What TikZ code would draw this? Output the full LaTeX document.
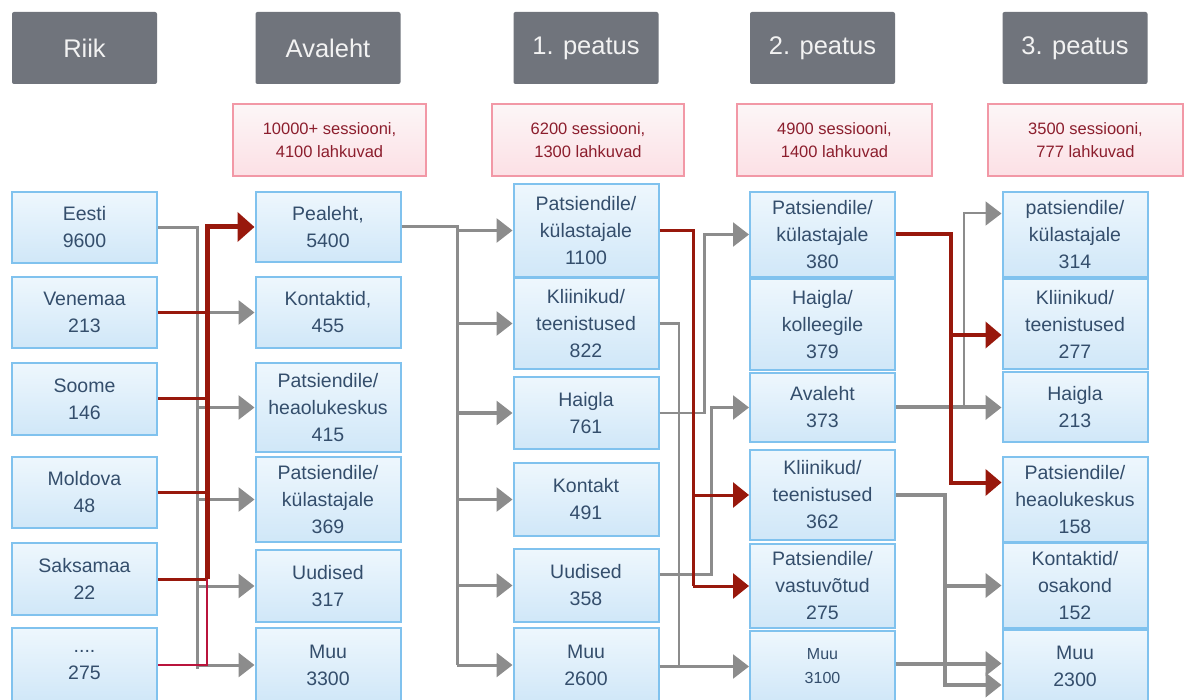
\documentclass[tikz,border=0pt]{standalone}
\usepackage{fontspec}
\setmainfont{Liberation Sans}
\usetikzlibrary{arrows.meta}
\definecolor{boxtext}{RGB}{52,78,108}
\definecolor{boxborder}{RGB}{128,194,238}
\definecolor{boxtop}{RGB}{238,247,253}
\definecolor{boxbot}{RGB}{208,231,248}
\definecolor{hdfill}{RGB}{112,116,124}
\definecolor{hdtext}{RGB}{242,242,242}
\definecolor{pkborder}{RGB}{242,152,166}
\definecolor{pktop}{RGB}{252,246,247}
\definecolor{pkbot}{RGB}{252,224,229}
\definecolor{pktext}{RGB}{140,30,45}
\definecolor{lgray}{RGB}{140,140,140}
\definecolor{dred}{RGB}{152,24,12}
\definecolor{crim}{RGB}{185,20,60}
\begin{document}
\begin{tikzpicture}[x=1pt,y=-1pt,
  bx/.style={draw=boxborder, line width=2pt, top color=boxtop, bottom color=boxbot,
    minimum width=145pt, inner sep=0pt, align=center, text=boxtext,
    font=\fontsize{19.5}{27}\selectfont},
  hd/.style={fill=hdfill, rounded corners=2pt, minimum width=145pt, minimum height=72pt,
    inner sep=0pt, text=hdtext, font=\fontsize{25.5}{30}\selectfont},
  pk/.style={draw=pkborder, line width=2pt, top color=pktop, bottom color=pkbot,
    minimum height=72pt, inner sep=0pt, align=center, text=pktext,
    font=\fontsize{16.5}{23}\selectfont},
  gl/.style={draw=lgray, line width=3pt},
  ga/.style={gl, -{Triangle[length=16pt,width=24pt]}},
  gm/.style={draw=lgray, line width=2.5pt},
  gma/.style={gm, -{Triangle[length=16pt,width=24pt]}},
  gt/.style={draw=lgray, line width=2pt, -{Triangle[length=16pt,width=24pt]}},
  gT/.style={draw=lgray, line width=4pt},
  gTa/.style={gT, -{Triangle[length=16pt,width=24pt]}},
  rl/.style={draw=dred, line width=3pt},
  ra/.style={rl, -{Triangle[length=16pt,width=25pt]}},
  cl/.style={draw=crim, line width=2.5pt},
  rT/.style={draw=dred, line width=5pt},
  rTb/.style={draw=dred, line width=4pt},
  rTba/.style={rTb, -{Triangle[length=16pt,width=26pt]}}
]
\useasboundingbox (0,0) rectangle (1186,700);
\fill[white] (0,0) rectangle (1186,700);

% headers
\node[hd] (h0) at (84.5,48) {Riik};
\node[hd] (h1) at (328,48) {Avaleht};
\node[hd] (h2) at (586,48) {1. peatus};
\node[hd] (h3) at (822.5,48) {2. peatus};
\node[hd] (h4) at (1075,48) {3. peatus};

% session boxes
\node[pk, minimum width=193pt] (p1) at (329.5,140) {10000+ sessiooni,\\4100 lahkuvad};
\node[pk, minimum width=192pt] (p2) at (588,140) {6200 sessiooni,\\1300 lahkuvad};
\node[pk, minimum width=195pt] (p3) at (834.5,140) {4900 sessiooni,\\1400 lahkuvad};
\node[pk, minimum width=195pt] (p4) at (1085.5,140) {3500 sessiooni,\\777 lahkuvad};

% column 0
\node[bx, minimum height=71pt] (c0a) at (84.5,227.5) {Eesti\\9600};
\node[bx, minimum height=71pt] (c0b) at (84.5,312.5) {Venemaa\\213};
\node[bx, minimum height=72pt] (c0c) at (84.5,399) {Soome\\146};
\node[bx, minimum height=71pt] (c0d) at (84.5,492.5) {Moldova\\48};
\node[bx, minimum height=72pt] (c0e) at (84.5,579) {Saksamaa\\22};
\node[bx, minimum height=74pt] (c0f) at (84.5,665) {....\\275};

% column 1
\node[bx, minimum height=70pt] (c1a) at (328,227) {Pealeht,\\5400};
\node[bx, minimum height=71pt] (c1b) at (328,312.5) {Kontaktid,\\455};
\node[bx, minimum height=89pt] (c1c) at (328,407.5) {Patsiendile/\\heaolukeskus\\415};
\node[bx, minimum height=85pt] (c1d) at (328,499.5) {Patsiendile/\\külastajale\\369};
\node[bx, minimum height=72pt] (c1e) at (328,586) {Uudised\\317};
\node[bx, minimum height=74pt] (c1f) at (328,665) {Muu\\3300};

% column 2
\node[bx, minimum height=93pt] (c2a) at (586,230.5) {Patsiendile/\\külastajale\\1100};
\node[bx, minimum height=91pt] (c2b) at (586,323.5) {Kliinikud/\\teenistused\\822};
\node[bx, minimum height=72pt] (c2c) at (586,413) {Haigla\\761};
\node[bx, minimum height=73pt] (c2d) at (586,499.5) {Kontakt\\491};
\node[bx, minimum height=73pt] (c2e) at (586,585.5) {Uudised\\358};
\node[bx, minimum height=74pt] (c2f) at (586,665) {Muu\\2600};

% column 3
\node[bx, minimum height=85pt] (c3a) at (822.5,234.5) {Patsiendile/\\külastajale\\380};
\node[bx, minimum height=91pt] (c3b) at (822.5,324.5) {Haigla/\\kolleegile\\379};
\node[bx, minimum height=69pt] (c3c) at (822.5,407.5) {Avaleht\\373};
\node[bx, minimum height=90pt] (c3d) at (822.5,495) {Kliinikud/\\teenistused\\362};
\node[bx, minimum height=84pt] (c3e) at (822.5,586) {Patsiendile/\\vastuvõtud\\275};
\node[bx, minimum height=71pt, font=\fontsize{16}{24}\selectfont] (c3f) at (822.5,666.5) {Muu\\3100};

% column 4
\node[bx, minimum height=85pt] (c4a) at (1075,234.5) {patsiendile/\\külastajale\\314};
\node[bx, minimum height=90pt] (c4b) at (1075,324) {Kliinikud/\\teenistused\\277};
\node[bx, minimum height=70pt] (c4c) at (1075,407) {Haigla\\213};
\node[bx, minimum height=85pt] (c4d) at (1075,499.5) {Patsiendile/\\heaolukeskus\\158};
\node[bx, minimum height=85pt] (c4e) at (1075,585.5) {Kontaktid/\\osakond\\152};
\node[bx, minimum height=72pt] (c4f) at (1075,666) {Muu\\2300};

% ---------- column 0 -> column 1
\coordinate (t0) at (197,227.5);
\coordinate (t0r) at (207,0);
\draw[gl] (c0a.east) -- (t0) -- ([yshift=-4pt]t0 |- c1f);
\foreach \n in {c1b,c1c,c1d,c1e,c1f} \draw[ga] (t0 |- \n) -- (\n);
\foreach \n in {c0b,c0c,c0d,c0e} \draw[rl] (\n.east) -- (\n.east -| t0r);
\draw[cl] (c0f.east) -| (t0r |- c0e);
\draw[rT, -{Triangle[length=17pt,width=29pt]}] (t0r |- c0e) -- (t0r |- c1a) -- (c1a);

% ---------- column 1 -> column 2
\coordinate (t1) at (457,0);
\draw[gl] (c1a.east) -| (t1 |- c2f);
\foreach \n in {c2a,c2b,c2c,c2d,c2e,c2f} \draw[ga] (t1 |- \n) -- (\n);

% ---------- column 2 -> column 3
\coordinate (t2g) at (679,0);
\coordinate (t2r) at (693,0);
\draw[gma] (c2b.east) -| (t2g |- c3f) -- (c3f);
\draw[gm] (c2f.east |- c3f) -- (t2g |- c3f);
\draw[gma] (c2c.east) -- ++(45,0) |- (c3a);
\draw[gma] ([yshift=11pt]c2e.east) -- ++(52,0) |- (c3c);
\draw[rl] (c2a.east) -| (t2r |- c3e);
\draw[ra] (t2r |- c3d) -- (c3d);
\draw[ra] (t2r |- c3e) -- (c3e);

% ---------- column 3 -> column 4
\coordinate (c4ain) at ([yshift=21pt]c4a.west);
\coordinate (c4bin) at ([yshift=-11pt]c4b.west);
\coordinate (c4din) at ([yshift=17pt]c4d.west);
\coordinate (c4fin) at ([yshift=-19pt]c4f.west);
\draw[gt] (c3c.east) ++(68,0) |- (c4ain);
\draw[gTa] (c3c.east) -- (c3c.east -| c4c.west);
\draw[gTa] (c3d.east) -- ++(49,0) coordinate (t3g) |- (c4fin);
\draw[gTa] (t3g |- c4e) -- (c4e);
\draw[gTa] ([yshift=3pt]c3f.east) -- ([yshift=3pt]c3f.east -| c4f.west);
\draw[rTba] (c3a.east) -- ++(55,0) coordinate (t3r) |- (c4din);
\draw[rTba] (t3r |- c4bin) -- (c4bin);
\end{tikzpicture}
\end{document}
